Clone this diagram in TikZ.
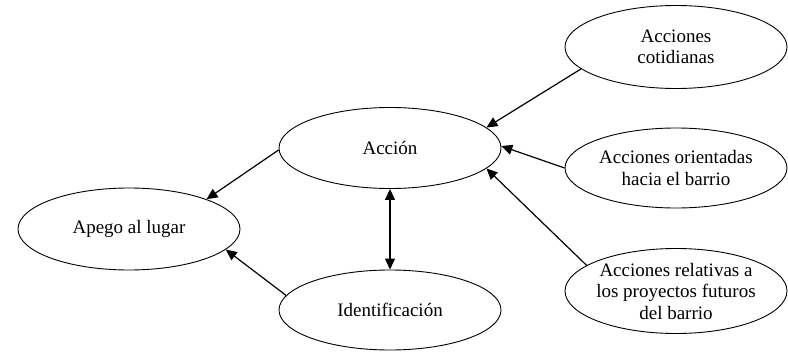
\documentclass[tikz,border=0pt]{standalone}
\usepackage{fontspec}
\setmainfont{Liberation Serif}
\usetikzlibrary{shapes.geometric,arrows.meta}
\begin{document}
\begin{tikzpicture}[x=1pt,y=-1pt,
  ell/.style={draw,ellipse,line width=0.9pt,inner sep=0pt,minimum width=222pt,minimum height=#1},
  lbl/.style={align=center,font=\fontsize{19}{21.5}\selectfont,inner sep=0pt},
  arr/.style={line width=1.2pt,-{Triangle[length=11pt,width=10pt]}},
  darr/.style={line width=1.2pt,{Triangle[length=11pt,width=10pt]}-{Triangle[length=11pt,width=10pt]}}]
\useasboundingbox (0,0) rectangle (788,353);
\node[ell=82pt] (apego) at (129,229) {};
\node[ell=81pt] (accion) at (390,148) {};
\node[ell=80pt] (ident) at (390,310) {};
\node[ell=83pt] (coti) at (676,47) {};
\node[ell=80pt] (orie) at (676,168) {};
\node[ell=85pt] (rela) at (676,291) {};
\node[lbl] (tapego) at (apego.center) {Apego al lugar};
\node[lbl] (taccion) at (accion.center) {Acción};
\node[lbl] (tident) at (ident.center) {Identificación};
\node[lbl] (tcoti) at (coti.center) {Acciones\\cotidianas};
\node[lbl] (torie) at (orie.center) {Acciones orientadas\\hacia el barrio};
\node[lbl] (trela) at (rela.center) {Acciones relativas a\\los proyectos futuros\\del barrio};
\draw[arr] (accion.181) -- (apego.21);
\draw[arr] (ident.172) -- (apego.-12);
\draw[darr] (accion.south) -- (ident.north);
\draw[arr] (coti.-167) -- (accion.12);
\draw[arr] (orie.west) -- (accion.1);
\draw[arr] (rela.164) -- (accion.-12);
\end{tikzpicture}
\end{document}
